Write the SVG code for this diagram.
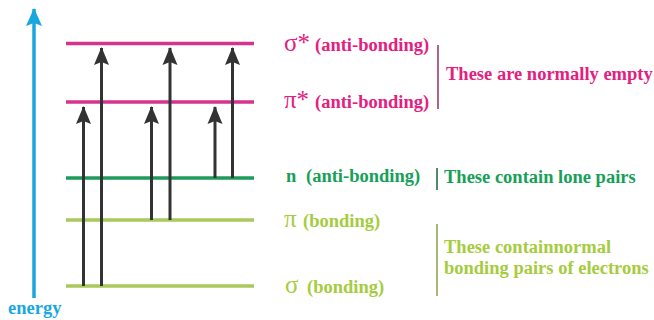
<svg xmlns="http://www.w3.org/2000/svg" width="654" height="320" viewBox="0 0 654 320">
<defs>
<marker id="ah" markerWidth="18" markerHeight="16" refX="17" refY="8" orient="auto" markerUnits="userSpaceOnUse" viewBox="0 0 18 16">
<path d="M18,8 L0,0.5 L3,8 L0,15.5 Z" fill="#333333"/>
</marker>
<marker id="eh" markerWidth="18" markerHeight="18" refX="17" refY="9" orient="auto" markerUnits="userSpaceOnUse" viewBox="0 0 18 18">
<path d="M18,9 L0,1 L3,9 L0,17 Z" fill="#1aa7e0"/>
</marker>
<style>
.lvl{stroke-width:3.5;fill:none}
.mag{stroke:#d6338a}
.grn{stroke:#1e9a5a}
.ylw{stroke:#a9c95a}
.arr{stroke:#333333;stroke-width:3;fill:none;marker-end:url(#ah)}
text{font-family:'Liberation Serif','Times New Roman','DejaVu Serif',serif}
.t{font-weight:bold;font-size:18.5px}
.g{font-size:25px}
.tm{fill:#e4207f}
.tg{fill:#16a058}
.ty{fill:#a5cc3e}
</style>
</defs>
<g id="energy-axis">
<line x1="34" y1="298" x2="34" y2="9" stroke="#1aa7e0" stroke-width="3.5" marker-end="url(#eh)"/>
<text x="8" y="313.5" class="t" style="fill:#1aa7e0">energy</text>
</g>
<g id="level-sigma-star">
<line x1="66" y1="43.5" x2="254" y2="43.5" class="lvl mag"/>
<text x="284" y="51" class="g tm">σ*</text>
<text x="315" y="51" class="t tm">(anti-bonding)</text>
</g>
<g id="level-pi-star">
<line x1="66" y1="102" x2="254" y2="102" class="lvl mag"/>
<text x="284" y="108" class="g tm">π*</text>
<text x="315" y="108" class="t tm">(anti-bonding)</text>
</g>
<g id="level-n">
<line x1="66" y1="178" x2="254" y2="178" class="lvl grn"/>
<text x="286" y="182" class="t tg">n</text>
<text x="306" y="182" class="t tg">(anti-bonding)</text>
</g>
<g id="level-pi">
<line x1="66" y1="220" x2="254" y2="220" class="lvl ylw"/>
<text x="284" y="227" class="g ty">π</text>
<text x="303" y="227" class="t ty">(bonding)</text>
</g>
<g id="level-sigma">
<line x1="66" y1="286" x2="254" y2="286" class="lvl ylw"/>
<text x="285" y="293" class="g ty">σ</text>
<text x="307" y="293" class="t ty">(bonding)</text>
</g>
<g id="group-empty">
<line x1="438" y1="45" x2="438" y2="109" stroke="#b0628a" stroke-width="2"/>
<text x="446" y="80" class="t tm">These are normally empty</text>
</g>
<g id="group-lone">
<line x1="437" y1="168" x2="437" y2="190" stroke="#4f8a6a" stroke-width="2"/>
<text x="444" y="183" class="t tg">These contain lone pairs</text>
</g>
<g id="group-bonding">
<line x1="437" y1="224" x2="437" y2="296" stroke="#a6b873" stroke-width="2"/>
<text x="444" y="253" class="t ty">These containnormal</text>
<text x="444" y="274" class="t ty">bonding pairs of electrons</text>
</g>
<g id="connectors">
<line x1="83.5" y1="286" x2="83.5" y2="107" class="arr"/>
<line x1="101.5" y1="286" x2="101.5" y2="48" class="arr"/>
<line x1="151.5" y1="220" x2="151.5" y2="107" class="arr"/>
<line x1="170" y1="220" x2="170" y2="48" class="arr"/>
<line x1="215" y1="178" x2="215" y2="107" class="arr"/>
<line x1="232.5" y1="178" x2="232.5" y2="48" class="arr"/>
</g>
</svg>
